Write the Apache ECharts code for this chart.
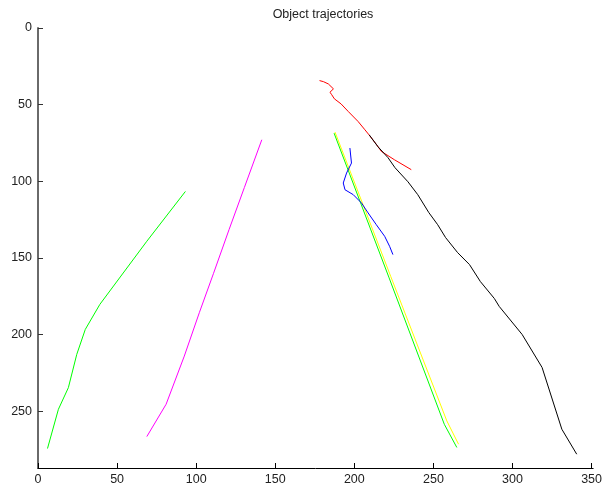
<!DOCTYPE html>
<html>
<head>
<meta charset="utf-8">
<script src="https://cdn.jsdelivr.net/npm/echarts@6/dist/echarts.min.js"></script>
<style>html,body{margin:0;padding:0;background:#fff}#c{width:605px;height:487px}</style>
</head>
<body>
<div id="c"></div>
<script>
const titleText = "Object trajectories";
const xTicks = [0, 50, 100, 150, 200, 250, 300, 350];
const yTicks = [0, 50, 100, 150, 200, 250];

const greenLeft = [[93.2,106.6],[68.8,139.1],[39.1,180.3],[29.9,196.6],[24.5,212.9],[19.2,234.6],[12.9,248.7],[6.0,274.3]];
const magentaTrack = [[141.5,72.9],[130.5,104],[120.8,131.5],[111,160],[102,185.7],[92.5,214],[81,245.4],[68.8,266.5]];
const greenRight = [[187.2,68.6],[222,163],[256.9,258.5],[264.8,273.6]];
const yellowTrack = [[187.8,67.9],[223,162],[258.5,256.3],[265.9,271.5]];
const blueTrack = [[197.2,78.3],[198.2,88.1],[195.1,94.6],[193.0,101.1],[194.1,105.5],[199.3,108.7],[204.5,114.1],[208.7,120.6],[213.9,128.3],[219.2,135.9],[222.3,142.4],[224.4,147.8]];
const redTrack = [[178.0,34.3],[180.5,35.0],[183.6,36.5],[186.8,39.7],[184.6,41.9],[185.7,43.5],[187.4,46.2],[191.6,49.5],[196.2,54.5],[202.4,61.0],[206.7,66.4],[209.3,69.7],[214,76],[217.1,80.5],[225.3,85.9],[236.0,92.4]];
const blackTrack = [[209.4,69.7],[215.0,77.5],[221.3,84.6],[225.7,91.1],[233.9,100.3],[240.1,108.7],[247.1,120.4],[252.7,128.3],[257.7,136.7],[265.3,146.5],[272.8,154.3],[279.7,165.4],[288.5,176.4],[291.6,181.6],[306.1,199.9],[318.7,221.4],[331.2,261.7],[340.6,278.0]];

const tracks = [
  {data: yellowTrack, color: '#ffff00'},
  {data: greenRight, color: '#00ff00'},
  {data: blueTrack, color: '#0000ff'},
  {data: greenLeft, color: '#00ff00'},
  {data: magentaTrack, color: '#ff00ff'},
  {data: redTrack, color: '#ff0000'},
  {data: blackTrack, color: '#000000'}
];

const font = 'Liberation Sans, Arial, Helvetica, sans-serif';
const chart = echarts.init(document.getElementById('c'), null, {renderer: 'canvas'});
chart.setOption({
  animation: false,
  backgroundColor: '#ffffff',
  title: {
    text: titleText, left: 318, top: 3, textAlign: 'center',
    textStyle: {fontFamily: font, fontSize: 12.5, fontWeight: 'normal', color: '#222'}
  },
  grid: {left: 38, right: 9, top: 28, bottom: 19, containLabel: false},
  xAxis: {
    type: 'value', min: 0, max: 351,
    axisLine: {show: true, onZero: false, lineStyle: {color: '#000', width: 1}},
    axisTick: {show: true, inside: true, length: 5, customValues: xTicks, lineStyle: {color: '#000'}},
    axisLabel: {customValues: xTicks, fontFamily: font, fontSize: 12.5, color: '#222', margin: 5},
    splitLine: {show: false}
  },
  yAxis: {
    type: 'value', min: 0, max: 287, inverse: true,
    axisLine: {show: true, onZero: false, lineStyle: {color: '#6a6a6a', width: 2}},
    axisTick: {show: true, inside: true, length: 5, customValues: yTicks, lineStyle: {color: '#333'}},
    axisLabel: {customValues: yTicks, fontFamily: font, fontSize: 12.5, color: '#222', margin: 6},
    splitLine: {show: false}
  },
  series: tracks.map(t => ({
    type: 'line', data: t.data, showSymbol: false, symbol: 'none',
    lineStyle: {color: t.color, width: 1}, silent: true
  }))
});
</script>
</body>
</html>
